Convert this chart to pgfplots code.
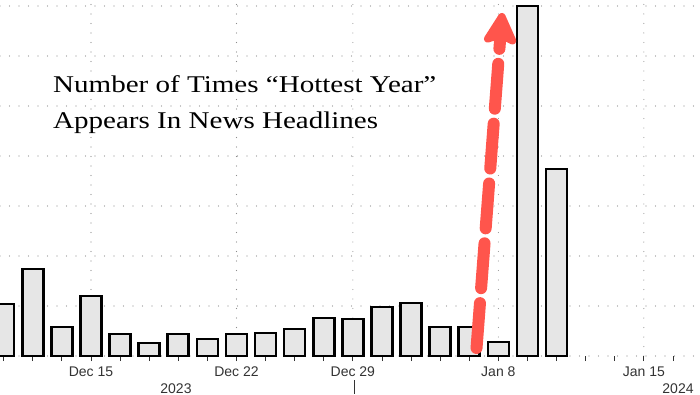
\documentclass[border=0pt]{standalone}
\usepackage{pgfplots}
\pgfplotsset{compat=1.18}
\usepackage{fontspec}
\setmainfont{Liberation Serif}
\newfontfamily\tickfont{Liberation Sans}
\usetikzlibrary{arrows.meta}
\definecolor{arrowred}{HTML}{FF554C}
\definecolor{barfill}{HTML}{E6E6E6}
\definecolor{gridc}{HTML}{8C8C8C}
\definecolor{tickc}{HTML}{333333}
\begin{document}
\begin{tikzpicture}
\path[use as bounding box] (0pt,-38pt) rectangle (700pt,356pt);
\begin{axis}[
  at={(0pt,0pt)}, anchor=south west,
  scale only axis, width=700pt, height=356pt,
  xmin=0.873, xmax=24.93, ymin=0, ymax=356,
  axis line style={draw=none},
  xtick={4,9,13,18,23},
  xticklabels={Dec 15,Dec 22,Dec 29,Jan 8,Jan 15},
  minor xtick={0,...,25},
  xtick pos=lower, tick align=outside,
  major tick length=5pt, minor tick length=5pt,
  every tick/.style={tickc, line width=0.8pt},
  xticklabel style={font=\tickfont\fontsize{14}{14}\selectfont, text=tickc, yshift=-2pt},
  ytick={0,50,...,350}, yticklabels={}, ytick style={draw=none},
  xmajorgrids, ymajorgrids,
  grid style={gridc, line width=1.2pt, dash pattern=on 0pt off 9.5pt, line cap=round},
  clip=true,
]
\addplot[ybar, bar width=21pt, fill=barfill, draw=black, line width=2.6pt] coordinates {
(1,52) (2,87) (3,29) (4,60)
(5,22) (6,13) (7,22) (8,17) (9,22)
(10,23) (11,27) (12,38) (13,37)
(14,49) (15,53) (16,29) (17,29) (18,14)
(19,350) (20,187)
};
\draw[arrowred, line width=12pt, dash pattern=on 45pt off 15pt, line cap=round,
  -{Stealth[length=38pt, width=40pt, inset=8pt, round]}]
  (axis cs:17.25,8) -- (axis cs:18.13,343);
\end{axis}
\node[anchor=base west, inner sep=0pt, font=\fontsize{24}{24}\selectfont] at (53pt,263pt) {\scalebox{1.21}[1]{Number of Times “Hottest Year”}};
\node[anchor=base west, inner sep=0pt, font=\fontsize{24}{24}\selectfont] at (53pt,228pt) {\scalebox{1.21}[1]{Appears In News Headlines}};
\node[font=\tickfont\fontsize{14}{14}\selectfont, text=tickc, anchor=base] at (176pt,-37pt) {2023};
\node[font=\tickfont\fontsize{14}{14}\selectfont, text=tickc, anchor=base] at (678pt,-37pt) {2024};
\draw[tickc, line width=0.8pt] (354pt,-24pt) -- (354pt,-38pt);
\end{tikzpicture}
\end{document}
